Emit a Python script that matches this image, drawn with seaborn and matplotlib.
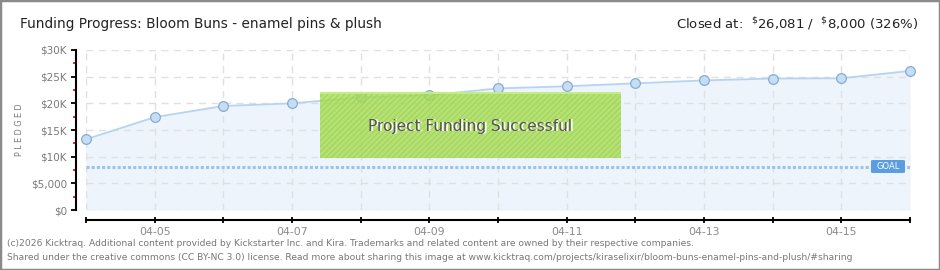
import matplotlib
matplotlib.use('Agg')
import matplotlib.pyplot as plt
import seaborn as sns
import pandas as pd
import numpy as np
from matplotlib.patches import Rectangle, FancyBboxPatch
from matplotlib.ticker import FixedLocator

# ---- data ----
dates = ['04-04', '04-05', '04-06', '04-07', '04-08', '04-09', '04-10',
         '04-11', '04-12', '04-13', '04-14', '04-15', '04-16']
pledged = [13260, 17400, 19500, 20000, 21100, 21500, 22800,
           23200, 23750, 24300, 24650, 24700, 26081]
goal = 8000
y_ticks = [0, 5000, 10000, 15000, 20000, 25000, 30000]
y_tick_labels = ['\\$0', '\\$5,000', '\\$10K', '\\$15K', '\\$20K', '\\$25K', '\\$30K']
y_minor = [2500, 7500, 12500, 17500, 22500, 27500]
x_tick_labels = ['', '04-05', '', '04-07', '', '04-09', '', '04-11', '', '04-13', '', '04-15', '']
title = 'Funding Progress: Bloom Buns - enamel pins & plush'
closed_text = 'Closed at:  $^{\\$}$26,081 /  $^{\\$}$8,000 (326%)'
banner = 'Project Funding Successful'
footer_lines = [
    '(c)2026 Kicktraq. Additional content provided by Kickstarter Inc. and Kira. Trademarks and related content are owned by their respective companies.',
    'Shared under the creative commons (CC BY-NC 3.0) license. Read more about sharing this image at www.kicktraq.com/projects/kiraselixir/bloom-buns-enamel-pins-and-plush/#sharing',
]

sns.set_theme(style='white')
plt.rcParams['font.family'] = ['DejaVu Sans']
plt.rcParams['hatch.linewidth'] = 0.6

W, H = 940, 270
fig = plt.figure(figsize=(W / 100, H / 100), dpi=100)
fig.patch.set_facecolor('white')

ax = fig.add_axes([86 / W, 1 - 210 / H, (910 - 86) / W, 160 / H])
ax.set_facecolor('white')

df = pd.DataFrame({'day': np.arange(len(dates)), 'pledged': pledged})

ax.fill_between(df['day'], df['pledged'], color='#edf4fc', zorder=0.2, lw=0)
ax.axhline(goal, color='#9cc3ea', lw=2.2, linestyle=(0, (1, 0.7)), zorder=2)
sns.lineplot(data=df, x='day', y='pledged', ax=ax, color='#b5d4f2', lw=1.3,
             marker='o', markersize=7, markerfacecolor='#c5ddf5',
             markeredgecolor='#8aaccf', markeredgewidth=0.9, zorder=3,
             clip_on=False)

ax.set_xlim(0, len(dates) - 1)
ax.set_ylim(0, 30000)
ax.set_xlabel('')
ax.set_ylabel('')

ax.set_yticks(y_ticks)
ax.set_yticklabels(y_tick_labels)
ax.yaxis.set_minor_locator(FixedLocator(y_minor))
ax.set_xticks(df['day'])
ax.set_xticklabels(x_tick_labels)

ax.grid(True, which='major', color='#e0e0e0', linestyle=(0, (5, 4)), lw=1, zorder=0.5)
ax.set_axisbelow(True)

for s in ['top', 'right']:
    ax.spines[s].set_visible(False)
for s in ['left', 'bottom']:
    ax.spines[s].set_visible(True)
    ax.spines[s].set_color('black')
    ax.spines[s].set_linewidth(1.5)
    ax.spines[s].set_position(('outward', 7.2))

ax.tick_params(axis='y', which='major', direction='out', length=3.5, width=1.3,
               color='black', labelsize=7.5, labelcolor='#7a7a7a', pad=3, left=True)
ax.tick_params(axis='y', which='minor', direction='out', length=2.5, width=1.2,
               color='#e00000', left=True)
ax.tick_params(axis='x', which='major', direction='inout', length=4, width=1.3,
               color='black', labelsize=7.8, labelcolor='#8a8a8a', pad=3, bottom=True)

# y label
fig.text(20 / W, 1 - 130 / H, 'P L E D G E D', rotation=90, ha='center', va='center',
         fontsize=5.8, color='#777777')

# Goal badge
gx0, gy0, gx1, gy1 = 871, 160, 905, 173
fig.add_artist(FancyBboxPatch((gx0 / W, 1 - gy1 / H), (gx1 - gx0) / W, (gy1 - gy0) / H,
                              boxstyle='round,pad=0,rounding_size=0.003',
                              transform=fig.transFigure, facecolor='#5a9de0',
                              edgecolor='none', zorder=6))
fig.text((gx0 + gx1) / 2 / W, 1 - (gy0 + gy1) / 2 / H, 'GOAL', ha='center', va='center',
         fontsize=6, color='white', zorder=7)

# Banner
bx0, by0, bx1, by1 = 320, 92, 621, 158
fig.add_artist(Rectangle((bx0 / W, 1 - by1 / H), (bx1 - bx0) / W, (by1 - by0) / H,
                         transform=fig.transFigure, facecolor='#a6dc54', alpha=0.8,
                         edgecolor='none', zorder=5))
fig.add_artist(Rectangle((bx0 / W, 1 - by1 / H), (bx1 - bx0) / W, (by1 - by0) / H,
                         transform=fig.transFigure, facecolor='none',
                         edgecolor='#9dd24c', hatch='//////', lw=0, zorder=5.1))
fig.add_artist(Rectangle((bx0 / W, 1 - (by0 + 1.5) / H), (bx1 - bx0) / W, 1.5 / H,
                         transform=fig.transFigure, facecolor='#c2ec84',
                         edgecolor='none', zorder=5.2))
cx, cy = (bx0 + bx1) / 2, 126
fig.text((cx + 1) / W, 1 - (cy + 1) / H, banner, ha='center', va='center',
         fontsize=11, color='white', zorder=8)
fig.text(cx / W, 1 - cy / H, banner, ha='center', va='center',
         fontsize=11, color='#555555', zorder=9)

# Title & closed text
fig.text(20 / W, 1 - 24 / H, title, ha='left', va='center', fontsize=9.8, color='#222222')
fig.text(918 / W, 1 - 24 / H, closed_text, ha='right', va='center', fontsize=9.5, color='#222222')

# Footer
fig.text(7 / W, 1 - 244 / H, footer_lines[0], ha='left', va='center', fontsize=6.6,
         color='#777777')
fig.text(7 / W, 1 - 257 / H, footer_lines[1], ha='left', va='center', fontsize=6.6,
         color='#777777')

# Border
fig.add_artist(Rectangle((0, 0), 1, 1, transform=fig.transFigure, facecolor='none',
                         edgecolor='#8a8a8a', lw=2.5, zorder=10))

fig.savefig('out.png', dpi=100, facecolor='white')
